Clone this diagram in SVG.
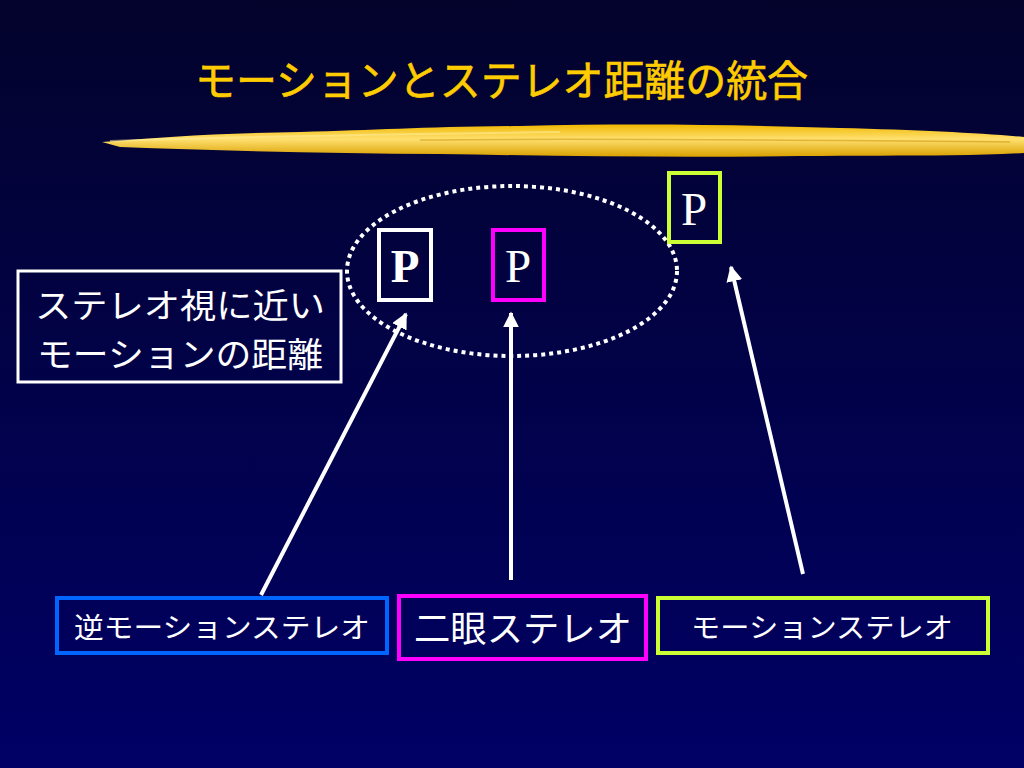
<svg xmlns="http://www.w3.org/2000/svg" width="1024" height="768" viewBox="0 0 1024 768">
<defs>
<linearGradient id="bg" x1="0" y1="0" x2="0" y2="1">
<stop offset="0" stop-color="#03032c"/>
<stop offset="1" stop-color="#000066"/>
</linearGradient>
<linearGradient id="brush" x1="0" y1="0" x2="0" y2="1">
<stop offset="0" stop-color="#f0b800"/>
<stop offset="0.45" stop-color="#ffe070"/>
<stop offset="1" stop-color="#d9a000"/>
</linearGradient>
<marker id="ah" viewBox="0 0 10 10" refX="9" refY="5" markerWidth="4" markerHeight="4" orient="auto" markerUnits="strokeWidth">
<path d="M0,0 L10,5 L0,10 z" fill="#ffffff"/>
</marker>
<style>
.jp{font-family:"Liberation Sans","Noto Sans CJK JP",sans-serif;fill:#ffffff}
.p{font-family:"Liberation Serif","DejaVu Serif",serif;fill:#ffffff;font-size:47px;text-anchor:middle}
.arrow{stroke:#ffffff;stroke-width:4;fill:none;marker-end:url(#ah)}
.box{fill:none;stroke-width:4}
</style>
</defs>
<rect width="1024" height="768" fill="url(#bg)"/>
<g id="title">
<text x="195" y="96" textLength="613" lengthAdjust="spacingAndGlyphs" font-family="Liberation Sans, Noto Sans CJK JP, sans-serif" font-size="42" fill="#ffcc00" stroke="#ffcc00" stroke-width="0.6">モーションとステレオ距離の統合</text>
</g>
<g id="brush">
<path d="M102,142 C160,137 220,133 300,132 C380,130 420,127 520,126 C640,123 740,125 840,128 C920,130 980,133 1024,137 L1024,153 C960,157 880,155 800,156 C680,158 560,156 440,154 C330,153 220,151 120,147 Z" fill="url(#brush)"/>
<path d="M110,141 C250,136 400,134 560,132" stroke="#fff0a0" stroke-width="2" fill="none" opacity="0.5"/>
<path d="M420,140 C600,138 800,140 1010,142" stroke="#c89000" stroke-width="1.5" fill="none" opacity="0.5"/>
</g>
<g id="ellipse">
<ellipse cx="512" cy="271" rx="165" ry="85" fill="none" stroke="#ffffff" stroke-width="4" stroke-dasharray="4 4"/>
</g>
<g id="note">
<rect x="18" y="271" width="323" height="111" fill="none" stroke="#ffffff" stroke-width="3"/>
<text class="jp" x="35" y="318" font-size="34" textLength="290" lengthAdjust="spacingAndGlyphs">ステレオ視に近い</text>
<text class="jp" x="37" y="367" font-size="34" textLength="286" lengthAdjust="spacingAndGlyphs">モーションの距離</text>
</g>
<g id="p1">
<rect class="box" x="379" y="230" width="52" height="70" stroke="#ffffff"/>
<text class="p" x="405" y="282" font-weight="bold">P</text>
</g>
<g id="p2">
<rect class="box" x="493" y="230" width="51" height="70" stroke="#ff00ff"/>
<text class="p" x="518" y="282">P</text>
</g>
<g id="p3">
<rect class="box" x="669" y="173" width="51" height="69" stroke="#ccff33"/>
<text class="p" x="694" y="225">P</text>
</g>
<g id="connectors">
<line class="arrow" x1="261" y1="595" x2="406" y2="314"/>
<line class="arrow" x1="511" y1="580" x2="511" y2="313"/>
<line class="arrow" x1="803" y1="574" x2="731" y2="267"/>
</g>
<g id="b1">
<rect class="box" x="57" y="598" width="330" height="55" stroke="#0066ff"/>
<text class="jp" x="222" y="638" font-size="28" text-anchor="middle" textLength="296" lengthAdjust="spacingAndGlyphs">逆モーションステレオ</text>
</g>
<g id="b2">
<rect class="box" x="399" y="596" width="247" height="63" stroke="#ff00ff"/>
<text class="jp" x="523" y="642" font-size="36" text-anchor="middle" textLength="218" lengthAdjust="spacingAndGlyphs">二眼ステレオ</text>
</g>
<g id="b3">
<rect class="box" x="658" y="598" width="330" height="55" stroke="#ccff33"/>
<text class="jp" x="822" y="638" font-size="28" text-anchor="middle" textLength="262" lengthAdjust="spacingAndGlyphs">モーションステレオ</text>
</g>
</svg>
